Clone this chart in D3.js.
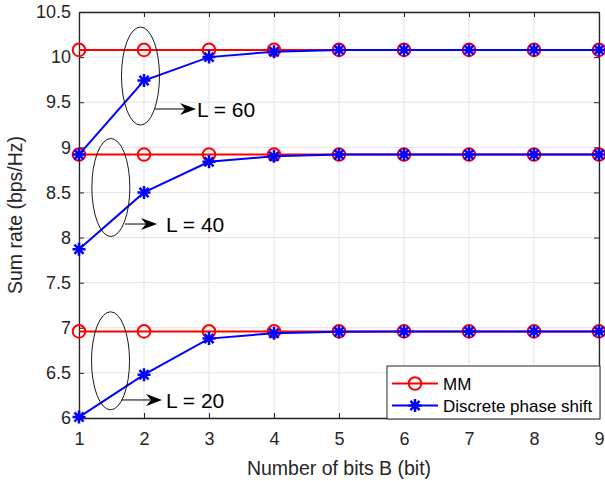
<!DOCTYPE html>
<html><head><meta charset="utf-8">
<script src="https://cdn.jsdelivr.net/npm/d3@7"></script>
<style>body{margin:0;background:#fff;} text{font-family:"Liberation Sans",Arial,sans-serif;}</style>
</head><body><svg id="c" width="605" height="481"></svg>
<script>
const bits = [1,2,3,4,5,6,7,8,9];
const mm60 = [10.08,10.08,10.08,10.08,10.08,10.08,10.08,10.08,10.08];
const mm40 = [8.92,8.92,8.92,8.92,8.92,8.92,8.92,8.92,8.92];
const mm20 = [6.96,6.96,6.96,6.96,6.96,6.96,6.96,6.96,6.96];
const dps60 = [8.92,9.74,10.00,10.06,10.08,10.08,10.08,10.08,10.08];
const dps40 = [7.87,8.50,8.84,8.90,8.92,8.92,8.92,8.92,8.92];
const dps20 = [6.01,6.48,6.88,6.94,6.955,6.96,6.96,6.96,6.96];
const xTicks = [1,2,3,4,5,6,7,8,9];
const yTicks = [6,6.5,7,7.5,8,8.5,9,9.5,10,10.5];
const groupLabels = ["L = 60","L = 40","L = 20"];
const ellipseCenters = [[1.946,9.79],[1.49,8.555],[1.485,6.634]];
const arrowSegs = [[2.17,2.80,9.425],[1.708,2.20,8.15],[1.657,2.277,6.20]];
const labelPos = [[2.815,9.336],[2.34,8.06],[2.34,6.11]];
const legendNames = ["MM","Discrete phase shift"];

const svg = d3.select("#c");
const L=79,R=599,T=12,B=418;
const x = d3.scaleLinear().domain([1,9]).range([L,R]);
const y = d3.scaleLinear().domain([6,10.5]).range([B,T]);
const axCol="#262626", gridCol="#e3e3e3";

svg.append("rect").attr("x",L).attr("y",T).attr("width",R-L).attr("height",B-T).attr("fill","#fff");
// grid
svg.append("g").selectAll("line").data(xTicks).join("line")
  .attr("x1",d=>x(d)).attr("x2",d=>x(d)).attr("y1",T).attr("y2",B).attr("stroke",gridCol).attr("stroke-width",1);
svg.append("g").selectAll("line").data(yTicks).join("line")
  .attr("y1",d=>y(d)).attr("y2",d=>y(d)).attr("x1",L).attr("x2",R).attr("stroke",gridCol).attr("stroke-width",1);

// axes
const fmt = d=>String(d);
const gx = svg.append("g").attr("transform",`translate(0,${B})`).call(d3.axisBottom(x).tickValues(xTicks).tickFormat(fmt).tickSizeInner(-5).tickSizeOuter(0).tickPadding(14));
const gxt = svg.append("g").attr("transform",`translate(0,${T})`).call(d3.axisTop(x).tickValues(xTicks).tickFormat("").tickSizeInner(-5).tickSizeOuter(0));
const gy = svg.append("g").attr("transform",`translate(${L},0)`).call(d3.axisLeft(y).tickValues(yTicks).tickFormat(fmt).tickSizeInner(-5).tickSizeOuter(0).tickPadding(8));
const gyr = svg.append("g").attr("transform",`translate(${R},0)`).call(d3.axisRight(y).tickValues(yTicks).tickFormat("").tickSizeInner(-5).tickSizeOuter(0));
[gx,gxt,gy,gyr].forEach(g=>{
  g.select(".domain").attr("stroke",axCol).attr("stroke-width",1.3);
  g.selectAll(".tick line").attr("stroke",axCol).attr("stroke-width",1);
  g.selectAll("text").attr("fill",axCol).style("font-size","18px").style("font-family","'Liberation Sans',Arial,sans-serif");
});

// axis titles
svg.append("text").attr("x",(L+R)/2).attr("y",475).attr("text-anchor","middle").attr("fill",axCol)
  .style("font-size","19.5px").text("Number of bits B (bit)");
svg.append("text").attr("transform",`translate(22,${(T+B)/2}) rotate(-90)`).attr("text-anchor","middle").attr("fill",axCol)
  .style("font-size","19.5px").text("Sum rate (bps/Hz)");

// series
const line = d3.line().x((d,i)=>x(bits[i])).y(d=>y(d));
const mmSeries=[mm60,mm40,mm20], dpsSeries=[dps60,dps40,dps20];
function circleMarks(g,data){
  g.selectAll("circle.m").data(data).join("circle").attr("class","m")
   .attr("cx",(d,i)=>x(bits[i])).attr("cy",d=>y(d)).attr("r",6.3)
   .attr("fill","none").attr("stroke","#ff0000").attr("stroke-width",2);
}
const starPath = (()=>{const s=6.5;let p="";
  for(let k=0;k<4;k++){const a=k*Math.PI/4;const dx=s*Math.cos(a),dy=s*Math.sin(a);p+=`M${-dx},${-dy}L${dx},${dy}`;}
  return p;})();
function starMarks(g,data){
  g.selectAll("path.s").data(data).join("path").attr("class","s")
   .attr("transform",(d,i)=>`translate(${x(bits[i])},${y(d)})`).attr("d",starPath)
   .attr("fill","none").attr("stroke","#0000ff").attr("stroke-width",2.5);
}
mmSeries.forEach(s=>{
  const g=svg.append("g");
  g.append("path").datum(s).attr("d",line).attr("fill","none").attr("stroke","#ff0000").attr("stroke-width",2);
  circleMarks(g,s);
});
dpsSeries.forEach(s=>{
  const g=svg.append("g");
  g.append("path").datum(s).attr("d",line).attr("fill","none").attr("stroke","#0000ff").attr("stroke-width",2);
  starMarks(g,s);
});

// annotations
svg.append("g").selectAll("ellipse").data(ellipseCenters).join("ellipse")
  .attr("cx",d=>x(d[0])).attr("cy",d=>y(d[1])).attr("rx",19).attr("ry",49)
  .attr("fill","none").attr("stroke","#000").attr("stroke-width",0.9);
arrowSegs.forEach(a=>{
  const x0=x(a[0]),x1=x(a[1]),yy=y(a[2]);
  svg.append("line").attr("x1",x0).attr("x2",x1-8).attr("y1",yy).attr("y2",yy).attr("stroke","#000").attr("stroke-width",1);
  svg.append("path").attr("d",`M${x1},${yy}L${x1-16},${yy-6}L${x1-11},${yy}L${x1-16},${yy+6}Z`).attr("fill","#000");
});
svg.append("g").selectAll("text").data(labelPos).join("text")
  .attr("x",d=>x(d[0])).attr("y",d=>y(d[1])).attr("fill","#000").style("font-size","21px")
  .text((d,i)=>groupLabels[i]);

// legend
const lg = svg.append("g");
lg.append("rect").attr("x",387).attr("y",366).attr("width",213).attr("height",53).attr("fill","#fff").attr("stroke","#262626").attr("stroke-width",1);
const lgY=[383.5,405.5];
lgY.forEach((yy,i)=>{
  const col=i===0?"#ff0000":"#0000ff";
  lg.append("line").attr("x1",392).attr("x2",438).attr("y1",yy).attr("y2",yy).attr("stroke",col).attr("stroke-width",2);
  if(i===0) lg.append("circle").attr("cx",415).attr("cy",yy).attr("r",6.3).attr("fill","none").attr("stroke",col).attr("stroke-width",2);
  else lg.append("path").attr("transform",`translate(415,${yy})`).attr("d",starPath).attr("stroke",col).attr("stroke-width",2.5);
  lg.append("text").attr("x",443).attr("y",yy+6).attr("fill","#000").style("font-size","17px").text(legendNames[i]);
});
</script></body></html>
